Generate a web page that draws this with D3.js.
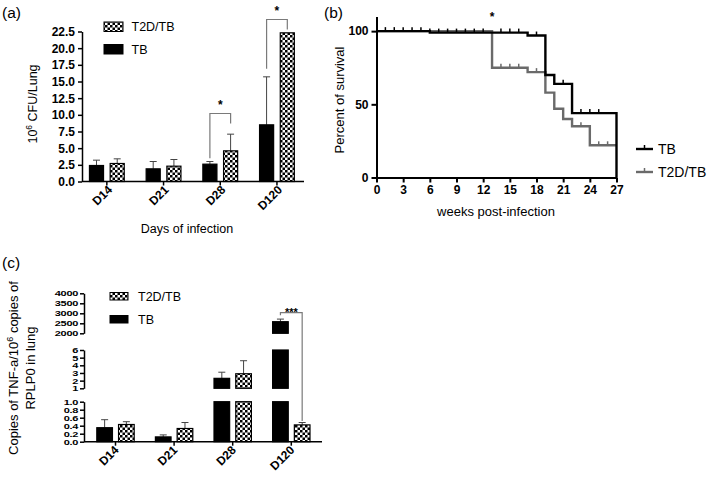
<!DOCTYPE html>
<html><head><meta charset="utf-8">
<script src="https://cdn.jsdelivr.net/npm/d3@7"></script>
<style>
body{margin:0;background:#fff;}
svg{display:block;font-family:"Liberation Sans",Arial,Helvetica,sans-serif;}
</style></head><body>
<svg id="fig" width="709" height="478"></svg>
<script>
// ---------- DATA ----------
const days = ["D14","D21","D28","D120"];
const groups = ["TB","T2D/TB"];
// (a) CFU (10^6 / lung)
const cfuTB = [2.4, 1.9, 2.6, 8.5];
const cfuTBErr = [0.8, 1.1, 0.4, 7.2];
const cfuT2D = [2.7, 2.3, 4.6, 22.3];
const cfuT2DErr = [0.7, 1.0, 2.5, 0];
const cfuTicks = [0, 2.5, 5, 7.5, 10, 12.5, 15, 17.5, 20, 22.5];
// (b) survival
const tbWeeks = [0, 6, 17, 19, 20, 22, 27, 27];
const tbSurv = [100, 99, 97, 70, 64, 44, 44, 0];
const t2dWeeks = [0, 13, 17, 19, 20, 21, 22, 24, 27];
const t2dSurv = [100, 75, 72, 58, 47, 40, 35, 22, 22];
const tbCensor = [1,2,3,4,5,6,7,8,9,10,11,12,14,15,16,18,21,23,24,25];
const t2dCensor = [14,15,16,18,23,25,26];
const weekTicks = [0,3,6,9,12,15,18,21,24,27];
const survTicks = [0,50,100];
// (c) TNF-a copies
const tnfTB = [0.35, 0.12, 2.3, 2580];
const tnfTBErr = [0.2, 0.05, 0.8, 130];
const tnfT2D = [0.43, 0.33, 2.9, 0.42];
const tnfT2DErr = [0.07, 0.15, 1.7, 0.06];
const tnfTicksLow = [0, 0.2, 0.4, 0.6, 0.8, 1.0];
const tnfTicksMid = [1, 2, 3, 4, 5, 6];
const tnfTicksHigh = [2000, 2500, 3000, 3500, 4000];

// ---------- SETUP ----------
const svg = d3.select("#fig");
const defs = svg.append("defs");
const pat = defs.append("pattern").attr("id","chk").attr("patternUnits","userSpaceOnUse")
  .attr("width",5).attr("height",5);
pat.append("rect").attr("width",5).attr("height",5).attr("fill","#fff");
pat.append("rect").attr("width",2.5).attr("height",2.5).attr("fill","#000");
pat.append("rect").attr("x",2.5).attr("y",2.5).attr("width",2.5).attr("height",2.5).attr("fill","#000");
const fillFor = g => g === "TB" ? "#000" : "url(#chk)";
const GRAY = "#7a7a7a";

function styleAxis(g, sw){
  g.select(".domain").attr("stroke","#000").attr("stroke-width",sw);
  g.selectAll(".tick line").attr("stroke","#000").attr("stroke-width",sw);
  g.selectAll(".tick text").attr("fill","#000").attr("font-weight","bold");
}
function rows(vTB, eTB, vT, eT){
  return days.flatMap((d,i)=>[
    {day:d, g:"TB", v:vTB[i], e:eTB[i]},
    {day:d, g:"T2D/TB", v:vT[i], e:eT[i]}
  ]);
}

// panel labels
svg.append("text").attr("x",2).attr("y",18).attr("font-size",15.5).text("(a)");
svg.append("text").attr("x",324).attr("y",18).attr("font-size",15.5).text("(b)");
svg.append("text").attr("x",2).attr("y",268).attr("font-size",15.5).text("(c)");

// ---------- PANEL A ----------
(function(){
  const g = svg.append("g");
  const x = d3.scaleBand().domain(days).range([78.5,305.3]);
  const xi = d3.scaleBand().domain(groups).range([-17.4,17.4]).paddingInner(0.32);
  const y = d3.scaleLinear().domain([0,22.5]).range([181.5,31.5]);
  const data = rows(cfuTB, cfuTBErr, cfuT2D, cfuT2DErr);
  const cx = d => x(d.day) + x.bandwidth()/2 + xi(d.g) + xi.bandwidth()/2;

  // error bars
  const eb = g.append("g").attr("stroke","#444").attr("stroke-width",1);
  data.filter(d=>d.e>0).forEach(d=>{
    eb.append("line").attr("x1",cx(d)).attr("x2",cx(d)).attr("y1",y(d.v)).attr("y2",y(d.v+d.e));
    eb.append("line").attr("x1",cx(d)-3.5).attr("x2",cx(d)+3.5).attr("y1",y(d.v+d.e)).attr("y2",y(d.v+d.e));
  });
  // bars
  g.append("g").selectAll("rect").data(data).join("rect")
    .attr("x", d => x(d.day)+x.bandwidth()/2+xi(d.g))
    .attr("width", xi.bandwidth())
    .attr("y", d => y(d.v)).attr("height", d => y(0)-y(d.v))
    .attr("fill", d => fillFor(d.g)).attr("stroke","#000").attr("stroke-width",1.2);

  // y axis
  const ya = g.append("g").attr("transform","translate(82,0)")
    .call(d3.axisLeft(y).tickValues(cfuTicks).tickFormat(d3.format(".1f")).tickSize(4).tickSizeOuter(0).tickPadding(3));
  ya.selectAll(".tick text").attr("font-size",12);
  styleAxis(ya,1.5);
  // x axis
  const xa = g.append("g").attr("transform","translate(0,181.5)")
    .call(d3.axisBottom(x).tickSize(4).tickSizeOuter(0).tickFormat(""));
  xa.select(".domain").attr("d","M82,0H304");
  styleAxis(xa,1.5);
  g.append("g").selectAll("text").data(days).join("text")
    .attr("transform", d => `translate(${x(d)+x.bandwidth()/2+6},${181.5+9}) rotate(-45)`)
    .attr("text-anchor","end").attr("font-size",12).attr("font-weight","bold").text(d=>d);

  // significance brackets
  const br = [
    {day:"D28", top:10.2, l:3.5, r:8.7},
    {day:"D120", top:24.3, l:16.9, r:22.8}
  ];
  br.forEach(b=>{
    const xl = x(b.day)+x.bandwidth()/2+xi("TB")+xi.bandwidth()/2;
    const xr = x(b.day)+x.bandwidth()/2+xi("T2D/TB")+xi.bandwidth()/2;
    g.append("path").attr("d",`M${xl},${y(b.l)}V${y(b.top)}H${xr}V${y(b.r)}`)
      .attr("fill","none").attr("stroke",GRAY).attr("stroke-width",1.2);
    g.append("text").attr("x",(xl+xr)/2).attr("y",y(b.top)-5).attr("text-anchor","middle")
      .attr("font-size",12).attr("font-weight","bold").text("*");
  });

  // axis titles
  const yl = g.append("text").attr("transform","translate(37,104) rotate(-90)")
    .attr("text-anchor","middle").attr("font-size",12.5);
  yl.append("tspan").text("10");
  yl.append("tspan").attr("dy",-5).attr("font-size",8.5).text("6");
  yl.append("tspan").attr("dy",5).text(" CFU/Lung");
  g.append("text").attr("x",187).attr("y",233).attr("text-anchor","middle").attr("font-size",12.5)
    .text("Days of infection");

  // legend
  const lg = g.append("g");
  [["T2D/TB",22],["TB",44.5]].forEach(([k,yy])=>{
    lg.append("rect").attr("x",104).attr("y",yy).attr("width",19).attr("height",9.5)
      .attr("fill",fillFor(k)).attr("stroke","#000").attr("stroke-width",1);
    lg.append("text").attr("x",131.5).attr("y",yy+9).attr("font-size",12.5).text(k);
  });
})();

// ---------- PANEL B ----------
(function(){
  const g = svg.append("g");
  const x = d3.scaleLinear().domain([0,27]).range([376.5,616.5]);
  const y = d3.scaleLinear().domain([0,110]).range([177.5,16.5]);
  const line = d3.line().x(d=>x(d[0])).y(d=>y(d[1])).curve(d3.curveStepAfter);
  const stepVal = (ws, ss, w) => { let v = ss[0]; ws.forEach((wk,i)=>{ if (wk<=w) v = ss[i]; }); return v; };

  const series = [
    {name:"T2D/TB", ws:t2dWeeks, ss:t2dSurv, cens:t2dCensor, color:"#6a6a6a"},
    {name:"TB", ws:tbWeeks, ss:tbSurv, cens:tbCensor, color:"#000"}
  ];
  series.forEach(s=>{
    g.append("path").attr("d", line(s.ws.map((w,i)=>[w,s.ss[i]])))
      .attr("fill","none").attr("stroke",s.color).attr("stroke-width",2.4);
    g.append("g").selectAll("line").data(s.cens).join("line")
      .attr("x1",d=>x(d)).attr("x2",d=>x(d))
      .attr("y1",d=>y(stepVal(s.ws,s.ss,d))).attr("y2",d=>y(stepVal(s.ws,s.ss,d))-4)
      .attr("stroke",s.color).attr("stroke-width",1.5);
  });

  const ya = g.append("g").attr("transform",`translate(${x(0)},0)`)
    .call(d3.axisLeft(y).tickValues(survTicks).tickSize(5).tickSizeOuter(0).tickPadding(3));
  ya.selectAll(".tick text").attr("font-size",12);
  styleAxis(ya,2);
  const xa = g.append("g").attr("transform",`translate(0,${y(0)})`)
    .call(d3.axisBottom(x).tickValues(weekTicks).tickSize(5).tickSizeOuter(0).tickPadding(3));
  xa.selectAll(".tick text").attr("font-size",12);
  styleAxis(xa,2);

  g.append("text").attr("x",x(13)).attr("y",21).attr("text-anchor","middle")
    .attr("font-size",12).attr("font-weight","bold").text("*");

  g.append("text").attr("transform","translate(344,100) rotate(-90)").attr("text-anchor","middle")
    .attr("font-size",13).text("Percent of survival");
  g.append("text").attr("x",496).attr("y",216).attr("text-anchor","middle")
    .attr("font-size",13).text("weeks post-infection");

  [["TB","#000",149],["T2D/TB","#6a6a6a",172]].forEach(([k,c,yy])=>{
    g.append("line").attr("x1",636).attr("x2",653).attr("y1",yy).attr("y2",yy).attr("stroke",c).attr("stroke-width",2.4);
    g.append("line").attr("x1",644.5).attr("x2",644.5).attr("y1",yy).attr("y2",yy-4).attr("stroke",c).attr("stroke-width",1.5);
    g.append("text").attr("x",658).attr("y",yy+5).attr("font-size",14).text(k);
  });
})();

// ---------- PANEL C ----------
(function(){
  const g = svg.append("g");
  const x = d3.scaleBand().domain(days).range([86.2,320.6]);
  const xi = d3.scaleBand().domain(groups).range([-18.7,18.7]).paddingInner(0.28);
  const segs = [
    {lo:0, hi:1, y:d3.scaleLinear().domain([0,1]).range([441.7,401.7]), ticks:tnfTicksLow, fmt:d3.format(".1f")},
    {lo:1, hi:6, y:d3.scaleLinear().domain([1,6]).range([388.3,350]), ticks:tnfTicksMid, fmt:d3.format("d")},
    {lo:2000, hi:4000, y:d3.scaleLinear().domain([2000,4000]).range([333.3,293.3]), ticks:tnfTicksHigh, fmt:d3.format("d")}
  ];
  const data = rows(tnfTB, tnfTBErr, tnfT2D, tnfT2DErr);
  const cx = d => x(d.day) + x.bandwidth()/2 + xi(d.g) + xi.bandwidth()/2;
  const segOf = v => segs.find(s => v > s.lo && v <= s.hi) || segs[segs.length-1];

  // error bars
  const eb = g.append("g").attr("stroke","#444").attr("stroke-width",1);
  data.forEach(d=>{
    const s = segOf(d.v);
    eb.append("line").attr("x1",cx(d)).attr("x2",cx(d)).attr("y1",s.y(d.v)).attr("y2",s.y(d.v+d.e));
    eb.append("line").attr("x1",cx(d)-3.5).attr("x2",cx(d)+3.5).attr("y1",s.y(d.v+d.e)).attr("y2",s.y(d.v+d.e));
  });
  // bars per segment
  segs.forEach(s=>{
    g.append("g").selectAll("rect").data(data.filter(d=>d.v > s.lo)).join("rect")
      .attr("x", d => x(d.day)+x.bandwidth()/2+xi(d.g))
      .attr("width", xi.bandwidth())
      .attr("y", d => s.y(Math.min(d.v, s.hi)))
      .attr("height", d => s.y(s.lo) - s.y(Math.min(d.v, s.hi)))
      .attr("fill", d => fillFor(d.g)).attr("stroke","#000").attr("stroke-width",1.2);
    const ya = g.append("g").attr("transform","translate(84,0)")
      .call(d3.axisLeft(s.y).tickValues(s.ticks).tickFormat(s.fmt).tickSize(4).tickSizeOuter(0).tickPadding(2));
    ya.selectAll(".tick text").attr("font-size",11).attr("letter-spacing",-0.3)
      .attr("transform","scale(1,0.72)");
    styleAxis(ya,1.5);
  });

  const xa = g.append("g").attr("transform","translate(0,441.7)")
    .call(d3.axisBottom(x).tickSize(4).tickSizeOuter(0).tickFormat(""));
  xa.select(".domain").attr("d","M84,0H322");
  styleAxis(xa,1.5);
  g.append("g").selectAll("text").data(days).join("text")
    .attr("transform", d => `translate(${x(d)+x.bandwidth()/2+4},${441.7+9}) rotate(-45)`)
    .attr("text-anchor","end").attr("font-size",12).attr("font-weight","bold").text(d=>d);

  // significance bracket D120
  const top = segs[2].y(3030);
  const xl = x("D120")+x.bandwidth()/2+xi("TB")+xi.bandwidth()/2;
  const xr = x("D120")+x.bandwidth()/2+xi("T2D/TB")+xi.bandwidth()/2;
  g.append("path").attr("d",`M${xl},${segs[2].y(2900)}V${top}H${xr}V${segs[0].y(0.52)}`)
    .attr("fill","none").attr("stroke",GRAY).attr("stroke-width",1.2);
  g.append("text").attr("x",(xl+xr)/2).attr("y",top+3).attr("text-anchor","middle")
    .attr("font-size",11).attr("font-weight","bold").text("***");

  // y title
  const yt = g.append("text").attr("transform","translate(18,368) rotate(-90)")
    .attr("text-anchor","middle").attr("font-size",13);
  yt.append("tspan").text("Copies of TNF-a/10");
  yt.append("tspan").attr("dy",-5).attr("font-size",9).text("6");
  yt.append("tspan").attr("dy",5).text(" copies of");
  g.append("text").attr("transform","translate(35,368) rotate(-90)")
    .attr("text-anchor","middle").attr("font-size",13).text("RPLP0 in lung");

  // legend
  [["T2D/TB",292.5],["TB",315.5]].forEach(([k,yy])=>{
    g.append("rect").attr("x",110).attr("y",yy).attr("width",18).attr("height",7.5)
      .attr("fill",fillFor(k)).attr("stroke","#000").attr("stroke-width",1);
    g.append("text").attr("x",138).attr("y",yy+8).attr("font-size",12.5).text(k);
  });
})();
</script>
</body></html>
